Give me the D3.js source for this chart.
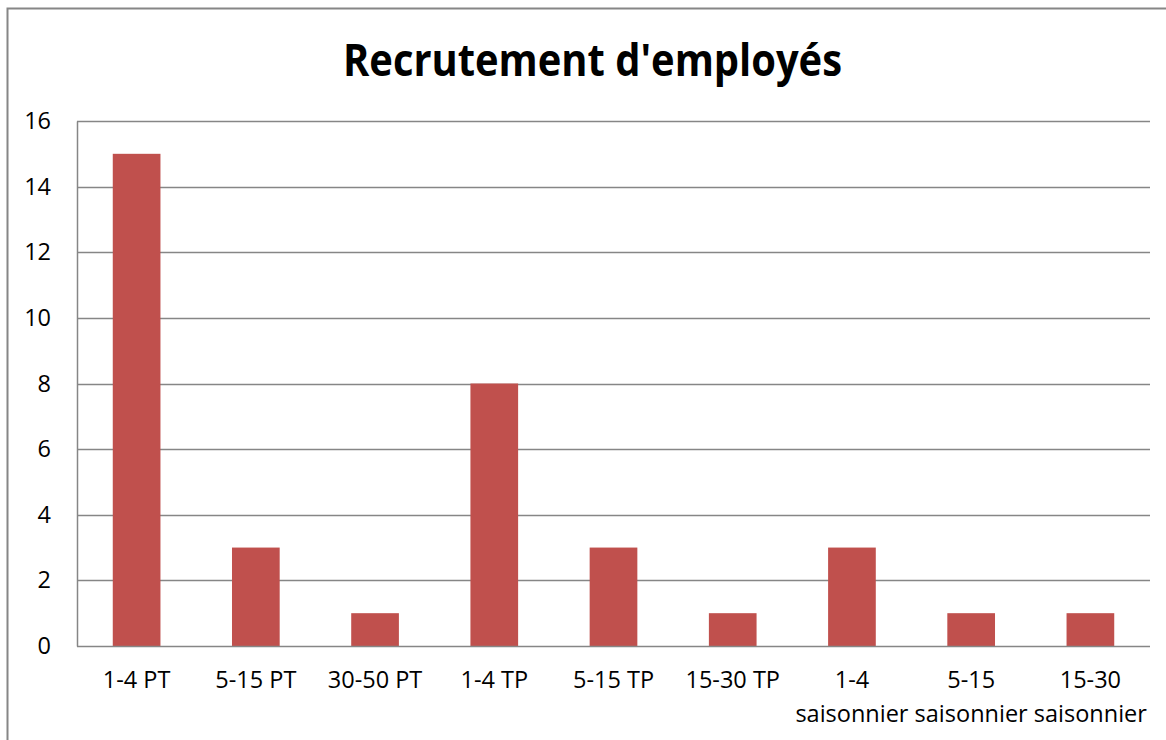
<!DOCTYPE html>
<html>
<head>
<meta charset="utf-8">
<script src="https://cdn.jsdelivr.net/npm/d3@7"></script>
<style>
  html, body { margin: 0; padding: 0; background: #fff; }
  svg { display: block; }
  text { font-family: "Open Sans", sans-serif; fill: #000; }
</style>
</head>
<body>
<svg id="chart" width="1166" height="740"></svg>
<script>
const categories = [
  ["1-4 PT"], ["5-15 PT"], ["30-50 PT"], ["1-4 TP"], ["5-15 TP"], ["15-30 TP"],
  ["1-4", "saisonnier"], ["5-15", "saisonnier"], ["15-30", "saisonnier"]
];
const values = [15, 3, 1, 8, 3, 1, 3, 1, 1];
const yTicks = [0, 2, 4, 6, 8, 10, 12, 14, 16];
const title = "Recrutement d'employés";

const svg = d3.select("#chart");
const W = 1166, H = 740;
const plot = { left: 77, right: 1150, top: 121, bottom: 646 };

// outer chart border
svg.append("rect")
  .attr("x", 7.5).attr("y", 8.5)
  .attr("width", W + 10).attr("height", H + 10)
  .attr("fill", "none").attr("stroke", "#868686").attr("stroke-width", 2);

const keys = categories.map((c, i) => i);
const x = d3.scaleBand().domain(keys).range([plot.left, plot.right]).paddingInner(0.6).paddingOuter(0.3);
const y = d3.scaleLinear().domain([0, 16]).range([plot.bottom, plot.top]);

// gridlines
svg.append("g").selectAll("line").data(yTicks.filter(t => t > 0)).join("line")
  .attr("x1", plot.left).attr("x2", plot.right)
  .attr("y1", d => Math.round(y(d)) + 0.5).attr("y2", d => Math.round(y(d)) + 0.5)
  .attr("stroke", "#868686").attr("stroke-width", 1.5);

// bars
svg.append("g").selectAll("rect").data(values).join("rect")
  .attr("x", (d, i) => x(i))
  .attr("width", x.bandwidth())
  .attr("y", d => y(d))
  .attr("height", d => y(0) - y(d))
  .attr("fill", "#C0504D");

// y axis
const yAxis = d3.axisLeft(y).tickValues(yTicks).tickSize(0).tickPadding(26).tickFormat(d3.format("d"));
const gy = svg.append("g").attr("transform", `translate(${plot.left},0)`).call(yAxis);
gy.select(".domain").attr("stroke", "#868686").attr("stroke-width", 1.5);
gy.selectAll("text").style("font-family", "Open Sans, sans-serif").style("font-size", "23.5px").attr("fill", "#000");

// x axis baseline
svg.append("line")
  .attr("x1", plot.left).attr("x2", plot.right)
  .attr("y1", plot.bottom + 0.5).attr("y2", plot.bottom + 0.5)
  .attr("stroke", "#868686").attr("stroke-width", 1.5);

// x labels
const xl = svg.append("g").selectAll("text").data(categories).join("text")
  .attr("x", (d, i) => x(i) + x.bandwidth() / 2)
  .attr("y", 688)
  .attr("text-anchor", "middle")
  .style("font-size", "23.5px");
xl.selectAll("tspan").data(d => d).join("tspan")
  .attr("x", function() { return this.parentNode.getAttribute("x"); })
  .attr("dy", (d, i) => i === 0 ? 0 : 34)
  .text(d => d);

// title
svg.append("text")
  .attr("x", 592.5).attr("y", 76)
  .attr("text-anchor", "middle")
  .attr("textLength", 499).attr("lengthAdjust", "spacingAndGlyphs")
  .style("font-size", "45px").style("font-weight", "bold")
  .text(title);
</script>
</body>
</html>
